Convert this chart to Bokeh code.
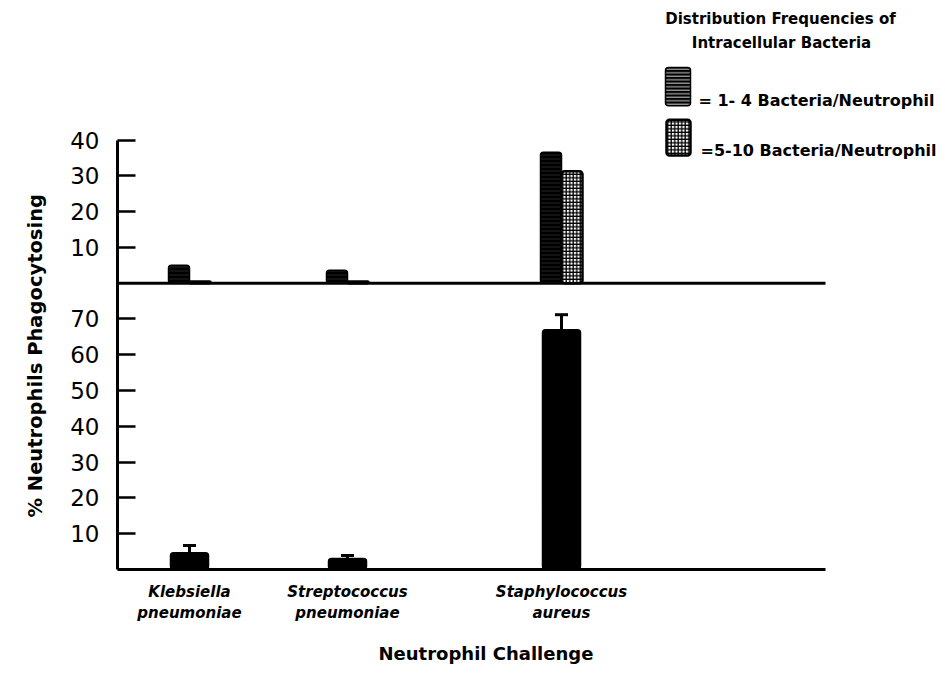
from bokeh.plotting import figure
from bokeh.models import (Range1d, LinearAxis, FixedTicker, CustomJSTickFormatter,
                          Whisker, TeeHead, ColumnDataSource, Title)
from bokeh.embed import file_html
from bokeh.resources import INLINE
from bokeh.core.properties import value

# ---- data -------------------------------------------------------------
challenges = ["Klebsiella\npneumoniae", "Streptococcus\npneumoniae", "Staphylococcus\naureus"]

# lower panel: % neutrophils phagocytosing (mean and top of error bar)
pct_phagocytosing = [4.7, 3.1, 67.0]
pct_phagocytosing_upper = [6.7, 3.9, 71.2]

# upper panel: distribution frequencies of intracellular bacteria
freq_1_4 = [5.0, 3.6, 36.6]
freq_5_10 = [0.5, 0.5, 31.3]

lower_ticks = [10, 20, 30, 40, 50, 60, 70]
upper_ticks = [10, 20, 30, 40]

legend_title = ["Distribution Frequencies of", "Intracellular Bacteria"]
legend_labels = ["= 1- 4   Bacteria/Neutrophil", "=5-10  Bacteria/Neutrophil"]
y_title = "% Neutrophils Phagocytosing"
x_title = "Neutrophil Challenge"

# ---- layout -----------------------------------------------------------
X_POS = [72, 230, 444]          # category centres along the x axis
X_END = 708                     # end of the x axis line
GAP = 80                        # the upper panel's zero sits at 80 on the lower scale
Y_TOP = 159
FONT = "DejaVu Sans"

p = figure(width=945, height=679, output_backend="svg", toolbar_location=None,
           x_range=Range1d(0, 828), y_range=Range1d(0, Y_TOP),
           x_axis_type=None, y_axis_type=None,
           min_border_left=117, min_border_right=0, min_border_top=0, min_border_bottom=110)
p.outline_line_color = None
p.background_fill_color = "white"
p.border_fill_color = "white"
p.extra_y_ranges = {"upper": Range1d(-GAP, Y_TOP - GAP)}

# shared left axis: lower panel 0-70, upper panel 0-40 stacked above it
yaxis = LinearAxis(
    ticker=FixedTicker(ticks=lower_ticks + [GAP + t for t in upper_ticks]),
    formatter=CustomJSTickFormatter(code=f"return String(tick > {GAP} ? tick - {GAP} : tick)"),
    bounds=(0, GAP + upper_ticks[-1]),
    axis_line_width=3, axis_line_color="black",
    major_tick_in=18, major_tick_out=0, major_tick_line_width=2.5,
    major_label_standoff=18,
    major_label_text_font=FONT, major_label_text_font_size="23px",
    major_label_text_color="black",
)
p.add_layout(yaxis, "left")

xaxis = LinearAxis(
    ticker=FixedTicker(ticks=X_POS),
    major_label_overrides={x: c for x, c in zip(X_POS, challenges)},
    bounds=(0, X_END),
    axis_line_width=3, axis_line_color="black",
    major_tick_in=0, major_tick_out=0,
    major_label_standoff=13,
    major_label_text_font=FONT, major_label_text_font_style="bold italic",
    major_label_text_font_size="15px", major_label_text_color="black",
)
p.add_layout(xaxis, "below")

# axis titles as side panels, shifted to sit under / beside the drawn axis lines
p.add_layout(Title(text=y_title, align="left", offset=52, standoff=41,
                   text_font=FONT, text_font_style="bold", text_font_size="19.5px",
                   text_color="black"), "left")
p.add_layout(Title(text=x_title, align="left", offset=261, standoff=31,
                   text_font=FONT, text_font_style="bold", text_font_size="18px",
                   text_color="black"), "below")

# ---- lower panel -------------------------------------------------------
lower_src = ColumnDataSource(dict(x=X_POS, top=pct_phagocytosing, upper=pct_phagocytosing_upper))
p.vbar(x="x", top="top", bottom=0, width=38, source=lower_src,
       fill_color="black", line_color="black", line_width=1.5, border_radius=3)
p.add_layout(Whisker(source=lower_src, base="x", upper="upper", lower="top",
                     line_color="black", line_width=3,
                     upper_head=TeeHead(size=13, line_width=3, line_color="black"),
                     lower_head=None))

# ---- upper panel -------------------------------------------------------
p.segment(x0=[0], y0=[0], x1=[X_END], y1=[0], y_range_name="upper",
          line_color="black", line_width=3)
upper_src = ColumnDataSource(dict(
    x_a=[x - 10.5 for x in X_POS], x_b=[x + 10.5 for x in X_POS],
    f14=freq_1_4, f510=freq_5_10))
p.vbar(x="x_a", top="f14", bottom=0, width=21, source=upper_src, y_range_name="upper",
       fill_color="black", line_color="black", line_width=1.5, border_radius=3,
       hatch_pattern="horizontal_line", hatch_color="white", hatch_alpha=0.15,
       hatch_scale=4, hatch_weight=1)
p.vbar(x="x_b", top="f510", bottom=0, width=21, source=upper_src, y_range_name="upper",
       fill_color="white", line_color="black", line_width=2.5, border_radius=3,
       hatch_pattern="cross", hatch_color="black", hatch_scale=3.5, hatch_weight=1.3)

# ---- key ---------------------------------------------------------------
p.quad(left=[548], right=[573], top=[140.3], bottom=[129.6],
       fill_color="black", line_color="black", line_width=1.5, border_radius=3,
       hatch_pattern="horizontal_line", hatch_color="white", hatch_alpha=0.8,
       hatch_scale=3.5, hatch_weight=1)
p.quad(left=[549], right=[573], top=[125.7], bottom=[115.7],
       fill_color="white", line_color="black", line_width=2.5, border_radius=3,
       hatch_pattern="cross", hatch_color="black", hatch_scale=3.5, hatch_weight=1.3)
p.text(x=[581, 583], y=[131.0, 117.1], text=legend_labels,
       text_font=value(FONT), text_font_style="bold", text_font_size="16px",
       text_baseline="middle", text_align="left", text_color="black")
p.text(x=[663, 664], y=[153.7, 147.2], text=legend_title,
       text_font=value(FONT), text_font_style="bold", text_font_size="15px",
       text_baseline="middle", text_align="center", text_color="black")

open("out.html", "w").write(file_html(p, INLINE))
